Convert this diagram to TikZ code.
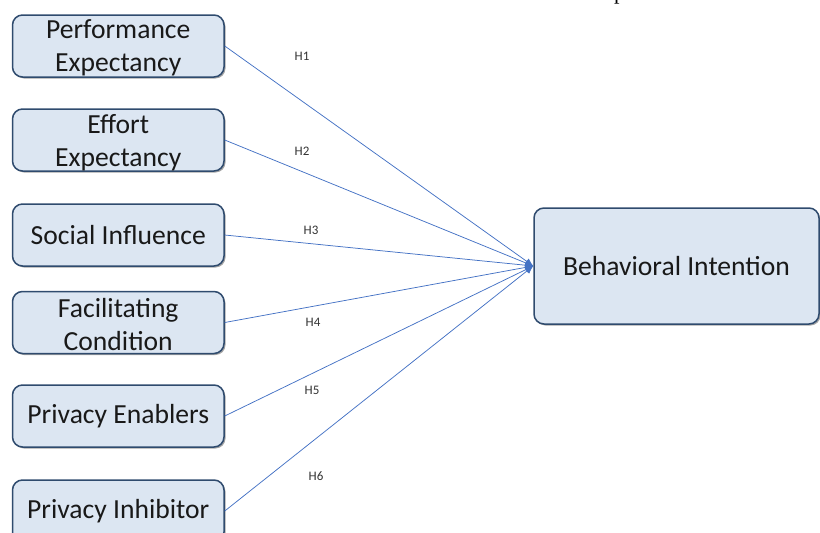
\documentclass[tikz,border=0pt]{standalone}
\usepackage{fontspec}
\setmainfont{Carlito}
\newfontfamily\serifp{Liberation Serif}
\usetikzlibrary{arrows.meta,shadows}
\definecolor{boxfill}{HTML}{DCE6F2}
\definecolor{boxline}{HTML}{2F4B6E}
\definecolor{conn}{HTML}{4472C4}
\definecolor{lbl}{HTML}{333333}
\tikzset{
  boxtext/.style={font=\fontsize{27.6}{33}\selectfont, text=black!90, align=center, inner sep=0pt},
  factor/.style={boxtext, draw=boxline, line width=1.5pt, fill=boxfill, rounded corners=10pt,
    minimum width=211.5pt, minimum height=62pt,
    drop shadow={shadow xshift=1.5pt, shadow yshift=-1.5pt, opacity=0.35, fill=black}},
  target/.style={factor, minimum width=285pt, minimum height=116pt},
  conline/.style={draw=conn, line width=0.75pt, -{Latex[length=8pt,width=7pt]}},
  hlabel/.style={font=\fontsize{13}{15}\selectfont, text=lbl, inner sep=0pt}
}
\begin{document}
\begin{tikzpicture}[x=1pt,y=-1pt]
\useasboundingbox (0,0) rectangle (820,533);
\clip (0,0) rectangle (820,533);
\node[anchor=base west, inner sep=0pt, font=\serifp\fontsize{22}{26}\selectfont] (ptext) at (614,-0.5) {p};
\node[factor] (pe) at (118.25,46) {};
\node[boxtext] (pet) at (118.25,48) {Performance\\Expectancy};
\node[factor] (ee) at (118.25,140) {};
\node[boxtext] (eet) at (118.25,142.5) {Effort\\Expectancy};
\node[factor] (si) at (118.25,235) {Social Influence};
\node[factor] (fc) at (118.25,322.5) {};
\node[boxtext] (fct) at (118.25,325) {Facilitating\\Condition};
\node[factor] (pen) at (118.25,416) {Privacy Enablers};
\node[factor] (pin) at (118.25,511) {Privacy Inhibitor};
\node[target] (bi) at (676.5,266) {Behavioral Intention};
\foreach \s in {pe,ee,si,fc,pen,pin} \draw[conline] (\s.east) -- (bi.west);
\node[hlabel] (h1) at (302,56) {H1};
\node[hlabel] (h2) at (302,151) {H2};
\node[hlabel] (h3) at (311,230) {H3};
\node[hlabel] (h4) at (313,322) {H4};
\node[hlabel] (h5) at (312,390) {H5};
\node[hlabel] (h6) at (316,476) {H6};
\end{tikzpicture}
\end{document}
